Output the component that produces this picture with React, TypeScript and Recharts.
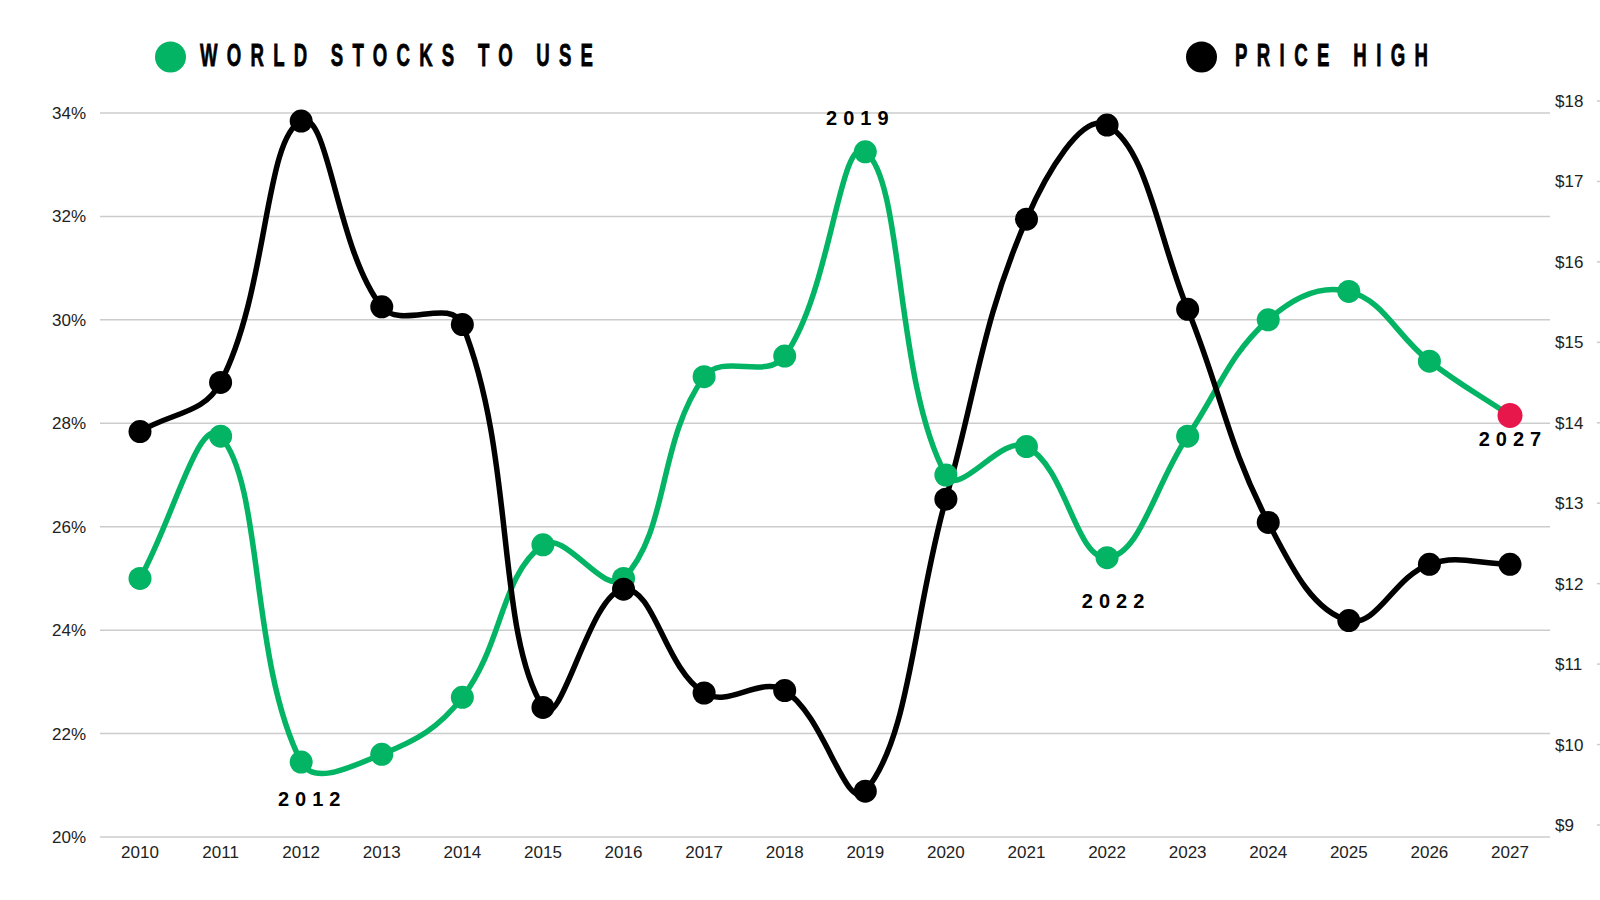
import React from "react";
import { CartesianGrid, Line, LineChart, XAxis, YAxis } from "recharts";

const years = [
  "2010", "2011", "2012", "2013", "2014", "2015", "2016", "2017", "2018",
  "2019", "2020", "2021", "2022", "2023", "2024", "2025", "2026", "2027",
];

// world stocks-to-use ratio, %
const stocksToUse = [
  25.0, 27.75, 21.45, 21.6, 22.7, 25.65, 25.0, 28.9, 29.3,
  33.25, 27.0, 27.55, 25.4, 27.75, 30.0, 30.55, 29.2, 28.15,
];

// price high, $
const priceHigh = [
  14.04, 14.65, 17.9, 15.59, 15.37, 10.61, 12.08, 10.79, 10.82,
  9.57, 13.2, 16.68, 17.85, 15.56, 12.91, 11.69, 12.39, 12.39,
];

const leftTicks = [20, 22, 24, 26, 28, 30, 32, 34];
const rightTicks = [9, 10, 11, 12, 13, 14, 15, 16, 17, 18];
const annotatedYears = ["2012", "2019", "2022", "2027"];

const seriesNames = { stocks: "WORLD STOCKS TO USE", price: "PRICE HIGH" };

const GREEN = "#02b463";
const BLACK = "#000000";
const RED = "#e8174b";
const GRID = "#cccccc";
const FONT = "'Liberation Sans', Arial, sans-serif";

// where each annotation sits relative to its point
const labelOffsets: Record<string, { dx: number; dy: number }> = {
  "2012": { dx: 8, dy: 44 },
  "2019": { dx: -8, dy: -27 },
  "2022": { dx: 6, dy: 50 },
  "2027": { dx: 0, dy: 30 },
};

const rows = years.map((year, i) => ({
  year,
  stocks: stocksToUse[i],
  price: priceHigh[i],
}));

// distance-weighted spline, tension 0.4
function smoothCurve(context: any) {
  let pts: number[][] = [];
  const t = 0.4;
  return {
    areaStart() {},
    areaEnd() {},
    lineStart() {
      pts = [];
    },
    point(x: number, y: number) {
      pts.push([+x, +y]);
    },
    lineEnd() {
      const n = pts.length;
      if (!n) return;
      const ctrl = pts.map((cur, i) => {
        const prev = pts[i - 1] || cur;
        const next = pts[i + 1] || cur;
        const d01 = Math.hypot(cur[0] - prev[0], cur[1] - prev[1]);
        const d12 = Math.hypot(next[0] - cur[0], next[1] - cur[1]);
        const sum = d01 + d12 || 1;
        const fa = (t * d01) / sum;
        const fb = (t * d12) / sum;
        return {
          prev: [cur[0] - fa * (next[0] - prev[0]), cur[1] - fa * (next[1] - prev[1])],
          next: [cur[0] + fb * (next[0] - prev[0]), cur[1] + fb * (next[1] - prev[1])],
        };
      });
      context.moveTo(pts[0][0], pts[0][1]);
      for (let i = 0; i < n - 1; i++) {
        const a = ctrl[i].next;
        const b = ctrl[i + 1].prev;
        context.bezierCurveTo(a[0], a[1], b[0], b[1], pts[i + 1][0], pts[i + 1][1]);
      }
    },
  };
}

function LeftTick(props: any) {
  const { x, y, payload } = props;
  return (
    <text x={x} y={y + 6} textAnchor="end" fontSize={17} fontFamily={FONT} fill="#222">
      {`${payload.value}%`}
    </text>
  );
}

function RightTick(props: any) {
  const { x, y, payload } = props;
  return (
    <g>
      <text x={x} y={y - 6} textAnchor="start" fontSize={17} fontFamily={FONT} fill="#222">
        {`$${payload.value}`}
      </text>
      <line x1={x + 42} x2={x + 48} y1={y - 12} y2={y - 12} stroke={GRID} strokeWidth={1.5} />
    </g>
  );
}

function YearTick(props: any) {
  const { x, y, payload } = props;
  return (
    <text x={x} y={y + 21} textAnchor="middle" fontSize={17} fontFamily={FONT} fill="#222">
      {payload.value}
    </text>
  );
}

function StocksDot(props: any) {
  const { cx, cy, index, payload } = props;
  const last = index === years.length - 1;
  const off = labelOffsets[payload.year];
  const showLabel = annotatedYears.includes(payload.year) && off;
  return (
    <g key={`sd-${index}`}>
      <circle cx={cx} cy={cy} r={last ? 12.5 : 11.5} fill={last ? RED : GREEN} />
      {showLabel ? (
        <text
          x={cx + off.dx + 3}
          y={cy + off.dy}
          textAnchor="middle"
          fontSize={20}
          fontWeight="bold"
          letterSpacing={6}
          fontFamily={FONT}
          fill="#000"
        >
          {payload.year}
        </text>
      ) : null}
    </g>
  );
}

function PriceDot(props: any) {
  const { cx, cy, index } = props;
  return <circle key={`pd-${index}`} cx={cx} cy={cy} r={11.5} fill={BLACK} />;
}

function LegendItem({ cx, color, label, textX, width }: any) {
  const sx = 0.6;
  return (
    <g>
      <circle cx={cx} cy={57} r={15.5} fill={color} />
      <text
        transform={`translate(${textX},65.5) scale(${sx},1)`}
        fontSize={31}
        fontWeight="bold"
        fontFamily={FONT}
        fill="#000"
        stroke="#000"
        strokeWidth={0.8}
        textLength={width / sx}
        lengthAdjust="spacing"
      >
        {label}
      </text>
    </g>
  );
}

export default function App() {
  return (
    <div style={{ position: "absolute", left: 0, top: 0, width: 1600, height: 900, background: "#fff" }}>
      <LineChart width={1600} height={900} data={rows} margin={{ top: 113, right: 0, left: 40, bottom: 23 }}>
        <CartesianGrid vertical={false} stroke={GRID} strokeWidth={1.5} yAxisId="left" />
        <XAxis
          dataKey="year"
          height={40}
          padding={{ left: 40, right: 40 }}
          axisLine={false}
          tickLine={false}
          tickSize={0}
          tickMargin={0}
          interval={0}
          tick={<YearTick />}
        />
        <YAxis
          yAxisId="left"
          width={60}
          domain={[20, 34]}
          ticks={leftTicks}
          axisLine={false}
          tickLine={false}
          tickSize={0}
          tickMargin={14}
          interval={0}
          tick={<LeftTick />}
        />
        <YAxis
          yAxisId="right"
          orientation="right"
          width={50}
          domain={[9, 18]}
          ticks={rightTicks}
          axisLine={false}
          tickLine={false}
          tickSize={0}
          tickMargin={5}
          interval={0}
          tick={<RightTick />}
        />
        <Line
          yAxisId="left"
          dataKey="stocks"
          name={seriesNames.stocks}
          type={smoothCurve as any}
          stroke={GREEN}
          strokeWidth={5.5}
          dot={StocksDot}
          activeDot={false}
          isAnimationActive={false}
        />
        <Line
          yAxisId="right"
          dataKey="price"
          name={seriesNames.price}
          type={smoothCurve as any}
          stroke={BLACK}
          strokeWidth={5.5}
          dot={PriceDot}
          activeDot={false}
          isAnimationActive={false}
        />
      </LineChart>
      <svg width={1600} height={100} style={{ position: "absolute", left: 0, top: 0 }}>
        <LegendItem cx={170.5} color={GREEN} label={seriesNames.stocks} textX={200} width={393} />
        <LegendItem cx={1201.5} color={BLACK} label={seriesNames.price} textX={1235} width={193} />
      </svg>
    </div>
  );
}
